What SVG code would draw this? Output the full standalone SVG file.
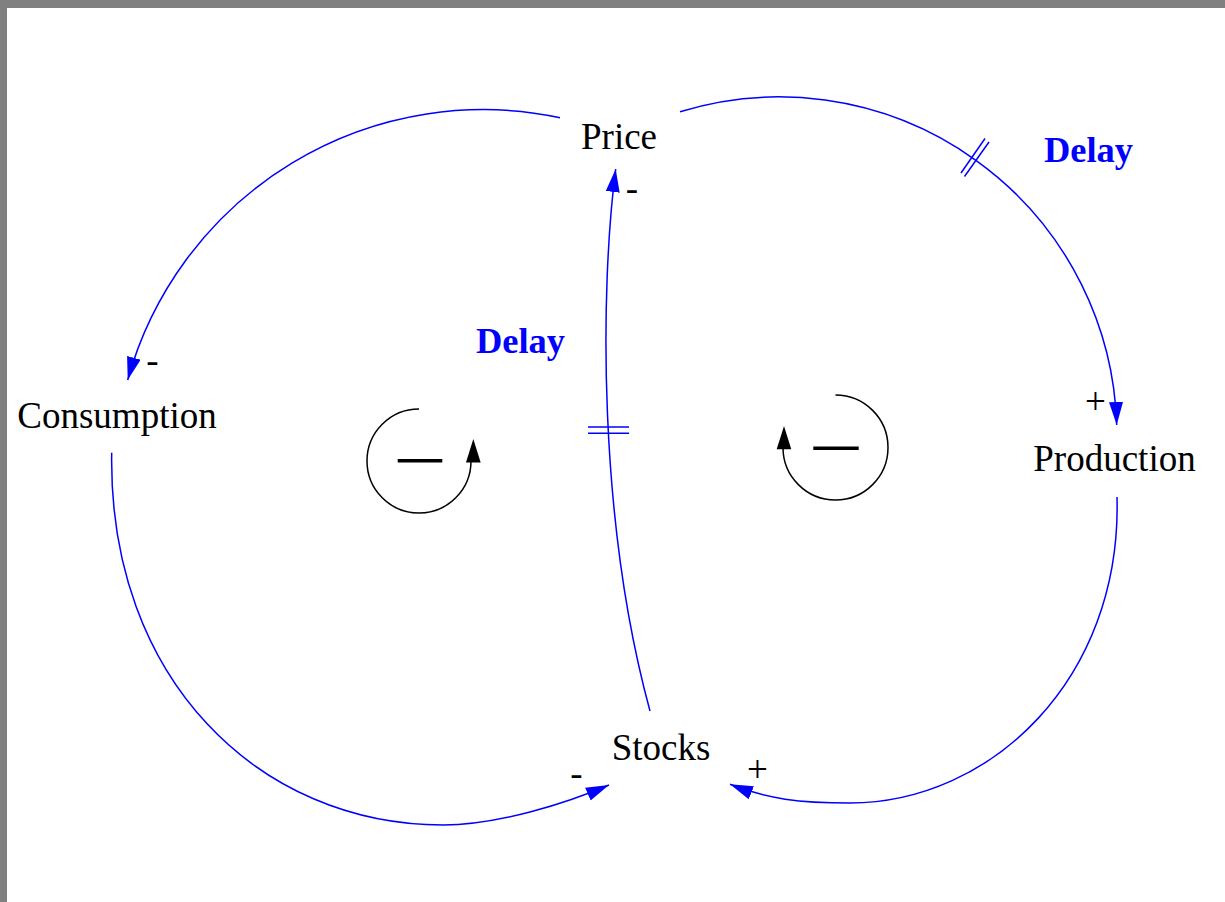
<svg xmlns="http://www.w3.org/2000/svg" width="1225" height="902" viewBox="0 0 1225 902">
  <style>
    .lbl { font-family: "Liberation Serif", "Times New Roman", serif; font-size: 37px; fill: #000; text-anchor: middle; }
    .delay { font-family: "Liberation Serif", "Times New Roman", serif; font-size: 36.5px; font-weight: bold; fill: #0000ff; text-anchor: middle; }
    .pol { font-family: "Liberation Serif", "Times New Roman", serif; font-size: 37px; fill: #000; text-anchor: middle; }
    .link { fill: none; stroke: #0000ff; stroke-width: 1.5; marker-end: url(#arrowBlue); }
    .mark { fill: none; stroke: #0000ff; stroke-width: 1.5; }
    .loop { fill: none; stroke: #000; stroke-width: 1.5; }
    .bar { stroke: #000; stroke-width: 3.5; }
  </style>
  <defs>
    <marker id="arrowBlue" markerUnits="userSpaceOnUse" markerWidth="23" markerHeight="14" viewBox="0 0 23 14" refX="23" refY="7" orient="auto">
      <path d="M0,0 L23,7 L0,14 z" fill="#0000ff"/>
    </marker>
  </defs>
  <rect x="0" y="0" width="1225" height="902" fill="#ffffff"/>
  <rect x="0" y="0" width="1225" height="8" fill="#808080"/>
  <rect x="0" y="0" width="7" height="902" fill="#808080"/>

  <g id="connectors">
    <path id="price-consumption" class="link" d="M560,117.7 A369,369 0 0 0 127.7,380"/>
    <path id="price-production" class="link" d="M680,111.7 A338,338 0 0 1 1116.7,425"/>
    <path id="consumption-stocks" class="link" d="M111.7,452.7 C108,680 260,825 443,825 C498,825 567,803 609,785"/>
    <path id="production-stocks" class="link" d="M1117,497 C1122,680 990,803 850,803 C800,803 767,799 730,784.3"/>
    <path id="stocks-price" class="link" d="M650,711 C598,520 600,290 615.7,169"/>
    <g id="delay-marks">
      <line class="mark" x1="961" y1="173" x2="985" y2="138.5"/>
      <line class="mark" x1="964.5" y1="176.5" x2="989" y2="142"/>
      <line class="mark" x1="588" y1="427" x2="629" y2="427"/>
      <line class="mark" x1="588" y1="433.3" x2="629" y2="433.3"/>
    </g>
    <g id="polarities">
      <text class="pol" x="632" y="201">-</text>
      <text class="pol" x="152.5" y="372.5">-</text>
      <text class="pol" x="576.5" y="786">-</text>
      <text class="pol" x="1095.5" y="414">+</text>
      <text class="pol" x="757.5" y="782">+</text>
    </g>
  </g>

  <g id="node-price"><text class="lbl" x="619" y="149">Price</text></g>
  <g id="node-consumption"><text class="lbl" x="117" y="428">Consumption</text></g>
  <g id="node-production"><text class="lbl" x="1114.5" y="471">Production</text></g>
  <g id="node-stocks"><text class="lbl" x="661" y="760">Stocks</text></g>

  <g id="delay-labels">
    <text class="delay" x="1088.5" y="162">Delay</text>
    <text class="delay" x="520.5" y="352.5">Delay</text>
  </g>

  <g id="loop-left">
    <path class="loop" d="M419,409 A52,52 0 1 0 471,461"/>
    <polygon points="466,462.5 473.3,439 480.7,462.5" fill="#000"/>
    <line class="bar" x1="397.7" y1="460.7" x2="442.3" y2="460.7"/>
  </g>
  <g id="loop-right">
    <path class="loop" d="M835.5,395 A52.5,52.5 0 1 1 783,447.5"/>
    <polygon points="776.7,449.3 784,426 791.3,449.3" fill="#000"/>
    <line class="bar" x1="813.3" y1="448.3" x2="858.7" y2="448.3"/>
  </g>
</svg>
